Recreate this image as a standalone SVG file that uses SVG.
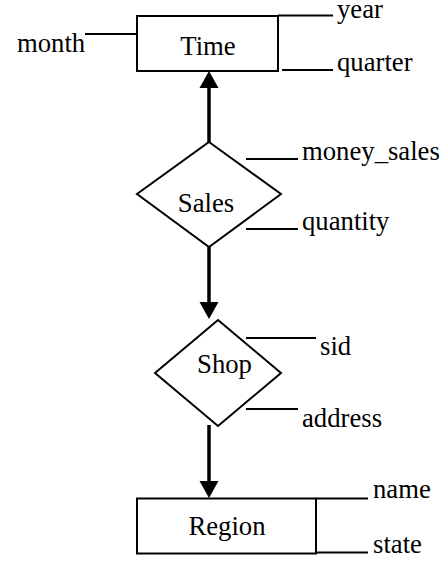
<svg xmlns="http://www.w3.org/2000/svg" width="446" height="562" viewBox="0 0 446 562">
<style>
  .shape { fill: #fff; stroke: #000; stroke-width: 2; }
  .attr { stroke: #000; stroke-width: 2; fill: none; }
  .conn { stroke: #000; stroke-width: 3.5; fill: none; }
  .head { fill: #000; stroke: none; }
  .t { font-family: 'Liberation Serif', 'Times New Roman', Times, serif; font-size: 26.7px; fill: #000; }
  .c { text-anchor: middle; }
</style>
<rect width="446" height="562" fill="#fff"/>
<g id="connectors">
  <line class="conn" x1="209" y1="142" x2="209" y2="86"/>
  <polygon class="head" points="209,71 199.5,88 218.5,88"/>
  <line class="conn" x1="209" y1="247" x2="209" y2="303"/>
  <polygon class="head" points="209,319 199.5,302 218.5,302"/>
  <line class="conn" x1="209" y1="425" x2="209" y2="483"/>
  <polygon class="head" points="209,498 199.5,481 218.5,481"/>
</g>
<g id="time">
  <rect class="shape" x="137" y="16" width="141" height="55"/>
  <text class="t c" x="208" y="55">Time</text>
  <line class="attr" x1="278" y1="15.5" x2="333" y2="15.5"/>
  <text class="t" x="337" y="18">year</text>
  <line class="attr" x1="85" y1="34" x2="137" y2="34"/>
  <text class="t" x="17" y="52">month</text>
  <line class="attr" x1="282" y1="70" x2="333" y2="70"/>
  <text class="t" x="337" y="71">quarter</text>
</g>
<g id="sales">
  <polygon class="shape" points="209,142 281,194 209,247 137,194"/>
  <text class="t c" x="206" y="212">Sales</text>
  <line class="attr" x1="246" y1="159" x2="298" y2="159"/>
  <text class="t" x="302" y="160">money_sales</text>
  <line class="attr" x1="246" y1="229" x2="298" y2="229"/>
  <text class="t" x="302" y="230">quantity</text>
</g>
<g id="shop">
  <polygon class="shape" points="218,320 281,373 218,426 155,373"/>
  <text class="t c" x="224.5" y="373">Shop</text>
  <line class="attr" x1="246" y1="338" x2="316" y2="338"/>
  <text class="t" x="320" y="355">sid</text>
  <line class="attr" x1="246" y1="409" x2="298" y2="409"/>
  <text class="t" x="302" y="427">address</text>
</g>
<g id="region">
  <rect class="shape" x="137" y="498.5" width="179" height="55"/>
  <text class="t c" x="227" y="535">Region</text>
  <line class="attr" x1="316" y1="498.5" x2="368" y2="498.5"/>
  <text class="t" x="373" y="498">name</text>
  <line class="attr" x1="316" y1="552.5" x2="368" y2="552.5"/>
  <text class="t" x="373" y="553">state</text>
</g>
</svg>
